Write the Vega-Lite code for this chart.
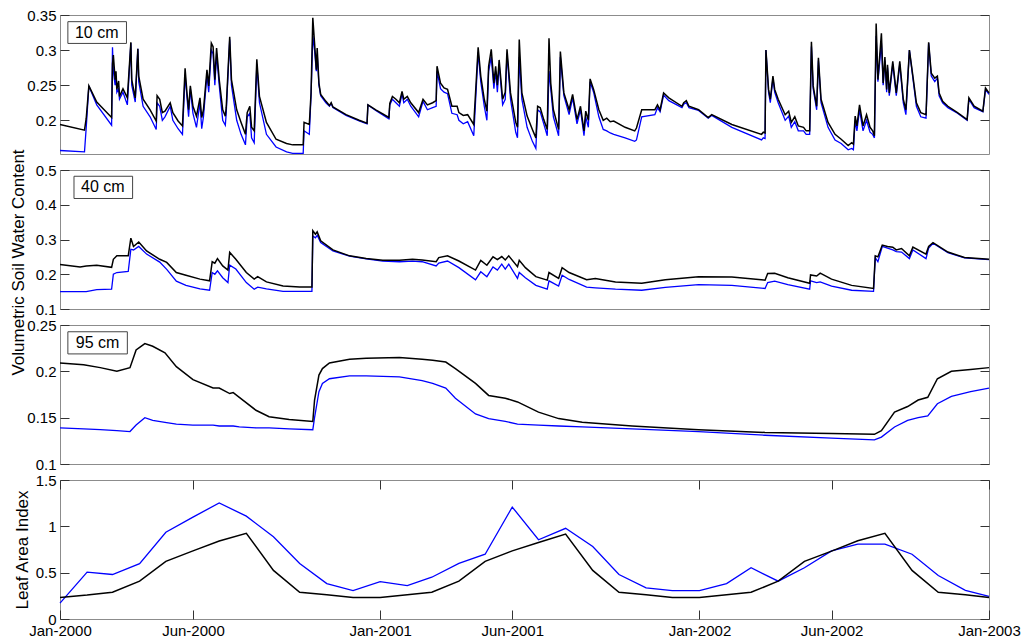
{
  "$schema": "https://vega.github.io/schema/vega-lite/v6.json",
  "background": "white",
  "padding": {"left": 8, "top": 7, "right": 5, "bottom": 5},
  "bounds": "flush",
  "spacing": 16,
  "config": {
    "font": "Liberation Sans",
    "view": {"stroke": "#8c8c8c", "strokeWidth": 1},
    "axis": {"labelFont": "Liberation Sans", "labelFontSize": 15, "labelColor": "#000000", "titleFont": "Liberation Sans", "titleFontSize": 17, "titleFontWeight": "normal", "titleColor": "#000000", "domain": false, "grid": false, "tickColor": "#333333", "tickSize": -9, "tickWidth": 1, "labelPadding": 13, "labelFlush": false},
    "line": {"strokeWidth": 1.4, "clip": true}
  },
  "resolve": {"scale": {"y": "independent"}},
  "datasets": {
    "soil10": [
      {"date":"2000-01-01","measured":0.194,"simulated":0.157},
      {"date":"2000-01-29","measured":0.186,"simulated":0.155},
      {"date":"2000-01-31","measured":0.203,"simulated":0.19},
      {"date":"2000-02-03","measured":0.249,"simulated":0.249},
      {"date":"2000-02-12","measured":0.226,"simulated":0.222},
      {"date":"2000-02-29","measured":0.204,"simulated":0.193},
      {"date":"2000-03-01","measured":0.28,"simulated":0.304},
      {"date":"2000-03-02","measured":0.293,"simulated":0.27},
      {"date":"2000-03-04","measured":0.258,"simulated":0.25},
      {"date":"2000-03-05","measured":0.27,"simulated":0.262},
      {"date":"2000-03-06","measured":0.244,"simulated":0.24},
      {"date":"2000-03-08","measured":0.256,"simulated":0.245},
      {"date":"2000-03-09","measured":0.234,"simulated":0.23},
      {"date":"2000-03-13","measured":0.245,"simulated":0.24},
      {"date":"2000-03-18","measured":0.232,"simulated":0.222},
      {"date":"2000-03-22","measured":0.311,"simulated":0.31},
      {"date":"2000-03-23","measured":0.258,"simulated":0.25},
      {"date":"2000-03-27","measured":0.232,"simulated":0.226},
      {"date":"2000-03-30","measured":0.302,"simulated":0.302},
      {"date":"2000-03-31","measured":0.263,"simulated":0.255},
      {"date":"2000-04-05","measured":0.23,"simulated":0.22},
      {"date":"2000-04-13","measured":0.215,"simulated":0.205},
      {"date":"2000-04-20","measured":0.199,"simulated":0.187},
      {"date":"2000-04-21","measured":0.235,"simulated":0.225},
      {"date":"2000-04-24","measured":0.23,"simulated":0.22},
      {"date":"2000-04-27","measured":0.211,"simulated":0.2},
      {"date":"2000-04-30","measured":0.213,"simulated":0.205},
      {"date":"2000-05-06","measured":0.225,"simulated":0.22},
      {"date":"2000-05-09","measured":0.211,"simulated":0.2},
      {"date":"2000-05-15","measured":0.199,"simulated":0.188},
      {"date":"2000-05-20","measured":0.192,"simulated":0.18},
      {"date":"2000-05-23","measured":0.274,"simulated":0.265},
      {"date":"2000-05-25","measured":0.241,"simulated":0.235},
      {"date":"2000-05-27","measured":0.215,"simulated":0.205},
      {"date":"2000-05-29","measured":0.249,"simulated":0.245},
      {"date":"2000-06-01","measured":0.22,"simulated":0.21},
      {"date":"2000-06-05","measured":0.206,"simulated":0.19},
      {"date":"2000-06-09","measured":0.232,"simulated":0.225},
      {"date":"2000-06-11","measured":0.204,"simulated":0.188},
      {"date":"2000-06-13","measured":0.215,"simulated":0.205},
      {"date":"2000-06-17","measured":0.272,"simulated":0.265},
      {"date":"2000-06-19","measured":0.249,"simulated":0.24},
      {"date":"2000-06-22","measured":0.31,"simulated":0.3},
      {"date":"2000-06-24","measured":0.305,"simulated":0.295},
      {"date":"2000-06-26","measured":0.258,"simulated":0.25},
      {"date":"2000-06-28","measured":0.303,"simulated":0.295},
      {"date":"2000-07-01","measured":0.258,"simulated":0.25},
      {"date":"2000-07-05","measured":0.215,"simulated":0.2},
      {"date":"2000-07-08","measured":0.206,"simulated":0.193},
      {"date":"2000-07-09","measured":0.218,"simulated":0.21},
      {"date":"2000-07-13","measured":0.319,"simulated":0.315},
      {"date":"2000-07-15","measured":0.258,"simulated":0.25},
      {"date":"2000-07-21","measured":0.215,"simulated":0.2},
      {"date":"2000-07-26","measured":0.197,"simulated":0.18},
      {"date":"2000-07-31","measured":0.18,"simulated":0.165},
      {"date":"2000-08-02","measured":0.211,"simulated":0.205},
      {"date":"2000-08-05","measured":0.22,"simulated":0.21},
      {"date":"2000-08-07","measured":0.19,"simulated":0.175},
      {"date":"2000-08-10","measured":0.185,"simulated":0.168},
      {"date":"2000-08-13","measured":0.287,"simulated":0.28},
      {"date":"2000-08-16","measured":0.234,"simulated":0.225},
      {"date":"2000-08-24","measured":0.197,"simulated":0.18},
      {"date":"2000-09-04","measured":0.173,"simulated":0.162},
      {"date":"2000-09-16","measured":0.167,"simulated":0.155},
      {"date":"2000-09-23","measured":0.165,"simulated":0.153},
      {"date":"2000-10-05","measured":0.165,"simulated":0.153},
      {"date":"2000-10-06","measured":0.197,"simulated":0.185},
      {"date":"2000-10-12","measured":0.194,"simulated":0.18},
      {"date":"2000-10-14","measured":0.239,"simulated":0.235},
      {"date":"2000-10-16","measured":0.346,"simulated":0.32},
      {"date":"2000-10-18","measured":0.31,"simulated":0.3},
      {"date":"2000-10-20","measured":0.272,"simulated":0.27},
      {"date":"2000-10-21","measured":0.303,"simulated":0.295},
      {"date":"2000-10-23","measured":0.253,"simulated":0.25},
      {"date":"2000-10-25","measured":0.237,"simulated":0.235},
      {"date":"2000-10-31","measured":0.227,"simulated":0.225},
      {"date":"2000-11-04","measured":0.221,"simulated":0.22},
      {"date":"2000-11-06","measured":0.225,"simulated":0.224},
      {"date":"2000-11-08","measured":0.219,"simulated":0.218},
      {"date":"2000-11-23","measured":0.208,"simulated":0.207},
      {"date":"2000-12-08","measured":0.2,"simulated":0.199},
      {"date":"2000-12-17","measured":0.196,"simulated":0.195},
      {"date":"2000-12-18","measured":0.222,"simulated":0.222},
      {"date":"2000-12-27","measured":0.215,"simulated":0.214},
      {"date":"2001-01-11","measured":0.204,"simulated":0.202},
      {"date":"2001-01-12","measured":0.224,"simulated":0.222},
      {"date":"2001-01-15","measured":0.234,"simulated":0.23},
      {"date":"2001-01-19","measured":0.23,"simulated":0.225},
      {"date":"2001-01-23","measured":0.225,"simulated":0.22},
      {"date":"2001-01-26","measured":0.241,"simulated":0.238},
      {"date":"2001-01-28","measured":0.23,"simulated":0.225},
      {"date":"2001-02-01","measured":0.234,"simulated":0.23},
      {"date":"2001-02-05","measured":0.225,"simulated":0.22},
      {"date":"2001-02-14","measured":0.211,"simulated":0.205},
      {"date":"2001-02-19","measured":0.23,"simulated":0.227},
      {"date":"2001-02-24","measured":0.222,"simulated":0.215},
      {"date":"2001-03-02","measured":0.225,"simulated":0.218},
      {"date":"2001-03-06","measured":0.228,"simulated":0.22},
      {"date":"2001-03-07","measured":0.277,"simulated":0.27},
      {"date":"2001-03-11","measured":0.253,"simulated":0.245},
      {"date":"2001-03-15","measured":0.246,"simulated":0.24},
      {"date":"2001-03-19","measured":0.244,"simulated":0.238},
      {"date":"2001-03-24","measured":0.22,"simulated":0.21},
      {"date":"2001-03-30","measured":0.22,"simulated":0.208},
      {"date":"2001-04-01","measured":0.211,"simulated":0.2},
      {"date":"2001-04-06","measured":0.207,"simulated":0.195},
      {"date":"2001-04-11","measured":0.208,"simulated":0.198},
      {"date":"2001-04-18","measured":0.194,"simulated":0.178},
      {"date":"2001-04-23","measured":0.304,"simulated":0.297},
      {"date":"2001-04-26","measured":0.263,"simulated":0.255},
      {"date":"2001-04-30","measured":0.23,"simulated":0.22},
      {"date":"2001-05-03","measured":0.213,"simulated":0.2},
      {"date":"2001-05-05","measured":0.277,"simulated":0.27},
      {"date":"2001-05-08","measured":0.301,"simulated":0.29},
      {"date":"2001-05-11","measured":0.253,"simulated":0.245},
      {"date":"2001-05-13","measured":0.277,"simulated":0.27},
      {"date":"2001-05-15","measured":0.25,"simulated":0.24},
      {"date":"2001-05-17","measured":0.286,"simulated":0.28},
      {"date":"2001-05-21","measured":0.23,"simulated":0.222},
      {"date":"2001-05-24","measured":0.24,"simulated":0.23},
      {"date":"2001-05-26","measured":0.301,"simulated":0.295},
      {"date":"2001-05-30","measured":0.239,"simulated":0.23},
      {"date":"2001-06-05","measured":0.197,"simulated":0.183},
      {"date":"2001-06-07","measured":0.19,"simulated":0.175},
      {"date":"2001-06-09","measured":0.315,"simulated":0.29},
      {"date":"2001-06-12","measured":0.239,"simulated":0.23},
      {"date":"2001-06-18","measured":0.206,"simulated":0.19},
      {"date":"2001-06-24","measured":0.187,"simulated":0.17},
      {"date":"2001-06-28","measured":0.175,"simulated":0.16},
      {"date":"2001-06-30","measured":0.22,"simulated":0.215},
      {"date":"2001-07-03","measured":0.218,"simulated":0.212},
      {"date":"2001-07-07","measured":0.201,"simulated":0.195},
      {"date":"2001-07-11","measured":0.187,"simulated":0.178},
      {"date":"2001-07-13","measured":0.317,"simulated":0.27},
      {"date":"2001-07-15","measured":0.253,"simulated":0.245},
      {"date":"2001-07-18","measured":0.215,"simulated":0.205},
      {"date":"2001-07-24","measured":0.187,"simulated":0.178},
      {"date":"2001-07-26","measured":0.298,"simulated":0.29},
      {"date":"2001-07-30","measured":0.239,"simulated":0.235},
      {"date":"2001-08-05","measured":0.215,"simulated":0.208},
      {"date":"2001-08-09","measured":0.237,"simulated":0.232},
      {"date":"2001-08-14","measured":0.201,"simulated":0.195},
      {"date":"2001-08-18","measured":0.22,"simulated":0.215},
      {"date":"2001-08-22","measured":0.185,"simulated":0.178},
      {"date":"2001-08-24","measured":0.213,"simulated":0.205},
      {"date":"2001-08-27","measured":0.2,"simulated":0.19},
      {"date":"2001-08-29","measured":0.259,"simulated":0.255},
      {"date":"2001-09-02","measured":0.244,"simulated":0.24},
      {"date":"2001-09-08","measured":0.215,"simulated":0.205},
      {"date":"2001-09-13","measured":0.2,"simulated":0.187},
      {"date":"2001-09-17","measured":0.203,"simulated":0.185},
      {"date":"2001-09-21","measured":0.198,"simulated":0.182},
      {"date":"2001-09-25","measured":0.199,"simulated":0.18},
      {"date":"2001-10-08","measured":0.19,"simulated":0.175},
      {"date":"2001-10-19","measured":0.185,"simulated":0.17},
      {"date":"2001-10-21","measured":0.189,"simulated":0.172},
      {"date":"2001-10-27","measured":0.215,"simulated":0.205},
      {"date":"2001-11-11","measured":0.215,"simulated":0.208},
      {"date":"2001-11-14","measured":0.222,"simulated":0.218},
      {"date":"2001-11-17","measured":0.215,"simulated":0.212},
      {"date":"2001-11-21","measured":0.239,"simulated":0.236},
      {"date":"2001-11-27","measured":0.232,"simulated":0.228},
      {"date":"2001-12-12","measured":0.22,"simulated":0.218},
      {"date":"2001-12-14","measured":0.225,"simulated":0.223},
      {"date":"2001-12-17","measured":0.228,"simulated":0.225},
      {"date":"2001-12-20","measured":0.22,"simulated":0.218},
      {"date":"2001-12-31","measured":0.215,"simulated":0.214},
      {"date":"2002-01-11","measured":0.204,"simulated":0.203},
      {"date":"2002-01-15","measured":0.208,"simulated":0.207},
      {"date":"2002-02-07","measured":0.194,"simulated":0.19},
      {"date":"2002-03-13","measured":0.18,"simulated":0.172},
      {"date":"2002-03-15","measured":0.183,"simulated":0.175},
      {"date":"2002-03-17","measured":0.182,"simulated":0.174},
      {"date":"2002-03-18","measured":0.3,"simulated":0.3},
      {"date":"2002-03-21","measured":0.244,"simulated":0.24},
      {"date":"2002-03-23","measured":0.23,"simulated":0.225},
      {"date":"2002-03-26","measured":0.263,"simulated":0.26},
      {"date":"2002-03-28","measured":0.244,"simulated":0.24},
      {"date":"2002-04-01","measured":0.23,"simulated":0.225},
      {"date":"2002-04-09","measured":0.208,"simulated":0.2},
      {"date":"2002-04-13","measured":0.213,"simulated":0.206},
      {"date":"2002-04-16","measured":0.197,"simulated":0.19},
      {"date":"2002-04-20","measured":0.205,"simulated":0.198},
      {"date":"2002-04-24","measured":0.192,"simulated":0.185},
      {"date":"2002-04-30","measured":0.19,"simulated":0.185},
      {"date":"2002-05-03","measured":0.185,"simulated":0.18},
      {"date":"2002-05-07","measured":0.185,"simulated":0.18},
      {"date":"2002-05-09","measured":0.312,"simulated":0.305},
      {"date":"2002-05-11","measured":0.249,"simulated":0.245},
      {"date":"2002-05-15","measured":0.22,"simulated":0.215},
      {"date":"2002-05-17","measured":0.289,"simulated":0.285},
      {"date":"2002-05-20","measured":0.23,"simulated":0.225},
      {"date":"2002-05-28","measured":0.197,"simulated":0.19},
      {"date":"2002-06-05","measured":0.18,"simulated":0.172},
      {"date":"2002-06-12","measured":0.173,"simulated":0.167},
      {"date":"2002-06-20","measured":0.164,"simulated":0.158},
      {"date":"2002-06-24","measured":0.168,"simulated":0.16},
      {"date":"2002-06-26","measured":0.166,"simulated":0.158},
      {"date":"2002-06-28","measured":0.206,"simulated":0.2},
      {"date":"2002-06-30","measured":0.192,"simulated":0.185},
      {"date":"2002-07-03","measured":0.222,"simulated":0.215},
      {"date":"2002-07-07","measured":0.192,"simulated":0.185},
      {"date":"2002-07-11","measured":0.208,"simulated":0.2},
      {"date":"2002-07-15","measured":0.19,"simulated":0.183},
      {"date":"2002-07-18","measured":0.185,"simulated":0.18},
      {"date":"2002-07-20","measured":0.178,"simulated":0.175},
      {"date":"2002-07-22","measured":0.338,"simulated":0.32},
      {"date":"2002-07-24","measured":0.258,"simulated":0.255},
      {"date":"2002-07-28","measured":0.324,"simulated":0.31},
      {"date":"2002-07-30","measured":0.253,"simulated":0.25},
      {"date":"2002-08-01","measured":0.29,"simulated":0.285},
      {"date":"2002-08-03","measured":0.244,"simulated":0.24},
      {"date":"2002-08-04","measured":0.279,"simulated":0.275},
      {"date":"2002-08-06","measured":0.239,"simulated":0.235},
      {"date":"2002-08-10","measured":0.284,"simulated":0.28},
      {"date":"2002-08-14","measured":0.239,"simulated":0.235},
      {"date":"2002-08-18","measured":0.284,"simulated":0.28},
      {"date":"2002-08-22","measured":0.23,"simulated":0.225},
      {"date":"2002-08-25","measured":0.215,"simulated":0.208},
      {"date":"2002-08-29","measured":0.3,"simulated":0.3},
      {"date":"2002-09-02","measured":0.263,"simulated":0.26},
      {"date":"2002-09-06","measured":0.225,"simulated":0.22},
      {"date":"2002-09-11","measured":0.211,"simulated":0.205},
      {"date":"2002-09-17","measured":0.208,"simulated":0.203},
      {"date":"2002-09-20","measured":0.311,"simulated":0.31},
      {"date":"2002-09-23","measured":0.267,"simulated":0.263},
      {"date":"2002-09-27","measured":0.26,"simulated":0.255},
      {"date":"2002-09-30","measured":0.263,"simulated":0.26},
      {"date":"2002-10-02","measured":0.239,"simulated":0.235},
      {"date":"2002-10-06","measured":0.227,"simulated":0.225},
      {"date":"2002-10-12","measured":0.22,"simulated":0.218},
      {"date":"2002-10-23","measured":0.211,"simulated":0.21},
      {"date":"2002-11-03","measured":0.201,"simulated":0.2},
      {"date":"2002-11-05","measured":0.232,"simulated":0.23},
      {"date":"2002-11-11","measured":0.22,"simulated":0.218},
      {"date":"2002-11-21","measured":0.213,"simulated":0.212},
      {"date":"2002-11-24","measured":0.246,"simulated":0.244},
      {"date":"2002-11-28","measured":0.239,"simulated":0.237}
    ],
    "soil40": [
      {"date":"2000-01-01","measured":0.228,"simulated":0.15},
      {"date":"2000-01-24","measured":0.221,"simulated":0.15},
      {"date":"2000-01-31","measured":0.224,"simulated":0.15},
      {"date":"2000-02-12","measured":0.226,"simulated":0.156},
      {"date":"2000-02-29","measured":0.22,"simulated":0.157},
      {"date":"2000-03-02","measured":0.243,"simulated":0.2},
      {"date":"2000-03-06","measured":0.253,"simulated":0.205},
      {"date":"2000-03-19","measured":0.253,"simulated":0.208},
      {"date":"2000-03-22","measured":0.304,"simulated":0.272},
      {"date":"2000-03-25","measured":0.28,"simulated":0.27},
      {"date":"2000-03-31","measured":0.293,"simulated":0.28},
      {"date":"2000-04-09","measured":0.267,"simulated":0.258},
      {"date":"2000-04-24","measured":0.243,"simulated":0.235},
      {"date":"2000-05-02","measured":0.234,"simulated":0.214},
      {"date":"2000-05-13","measured":0.205,"simulated":0.18},
      {"date":"2000-05-24","measured":0.197,"simulated":0.168},
      {"date":"2000-06-09","measured":0.186,"simulated":0.158},
      {"date":"2000-06-20","measured":0.181,"simulated":0.154},
      {"date":"2000-06-23","measured":0.236,"simulated":0.205},
      {"date":"2000-06-26","measured":0.232,"simulated":0.2},
      {"date":"2000-06-29","measured":0.245,"simulated":0.21},
      {"date":"2000-07-05","measured":0.224,"simulated":0.19},
      {"date":"2000-07-11","measured":0.212,"simulated":0.176},
      {"date":"2000-07-13","measured":0.263,"simulated":0.226},
      {"date":"2000-07-20","measured":0.243,"simulated":0.215},
      {"date":"2000-08-01","measured":0.205,"simulated":0.176},
      {"date":"2000-08-10","measured":0.186,"simulated":0.157},
      {"date":"2000-08-14","measured":0.193,"simulated":0.163},
      {"date":"2000-08-24","measured":0.178,"simulated":0.158},
      {"date":"2000-09-12","measured":0.166,"simulated":0.151},
      {"date":"2000-10-01","measured":0.163,"simulated":0.151},
      {"date":"2000-10-15","measured":0.163,"simulated":0.151},
      {"date":"2000-10-16","measured":0.325,"simulated":0.31},
      {"date":"2000-10-19","measured":0.315,"simulated":0.305},
      {"date":"2000-10-21","measured":0.322,"simulated":0.312},
      {"date":"2000-10-25","measured":0.296,"simulated":0.291},
      {"date":"2000-11-08","measured":0.27,"simulated":0.267},
      {"date":"2000-11-27","measured":0.253,"simulated":0.252},
      {"date":"2000-12-16","measured":0.245,"simulated":0.244},
      {"date":"2001-01-04","measured":0.24,"simulated":0.238},
      {"date":"2001-01-23","measured":0.24,"simulated":0.236},
      {"date":"2001-02-07","measured":0.243,"simulated":0.238},
      {"date":"2001-02-18","measured":0.241,"simulated":0.236},
      {"date":"2001-03-06","measured":0.236,"simulated":0.224},
      {"date":"2001-03-09","measured":0.248,"simulated":0.232},
      {"date":"2001-03-19","measured":0.253,"simulated":0.238},
      {"date":"2001-04-01","measured":0.238,"simulated":0.219},
      {"date":"2001-04-20","measured":0.212,"simulated":0.184},
      {"date":"2001-04-26","measured":0.24,"simulated":0.207},
      {"date":"2001-05-03","measured":0.226,"simulated":0.193},
      {"date":"2001-05-10","measured":0.25,"simulated":0.221},
      {"date":"2001-05-15","measured":0.242,"simulated":0.212},
      {"date":"2001-05-20","measured":0.251,"simulated":0.229},
      {"date":"2001-05-24","measured":0.241,"simulated":0.215},
      {"date":"2001-05-28","measured":0.253,"simulated":0.229},
      {"date":"2001-06-07","measured":0.222,"simulated":0.188},
      {"date":"2001-06-09","measured":0.24,"simulated":0.205},
      {"date":"2001-06-16","measured":0.219,"simulated":0.19},
      {"date":"2001-06-28","measured":0.193,"simulated":0.168},
      {"date":"2001-07-11","measured":0.183,"simulated":0.157},
      {"date":"2001-07-13","measured":0.205,"simulated":0.181},
      {"date":"2001-07-24","measured":0.188,"simulated":0.166},
      {"date":"2001-07-28","measured":0.219,"simulated":0.197},
      {"date":"2001-08-05","measured":0.205,"simulated":0.185},
      {"date":"2001-08-25","measured":0.184,"simulated":0.163},
      {"date":"2001-09-04","measured":0.188,"simulated":0.161},
      {"date":"2001-09-27","measured":0.178,"simulated":0.157},
      {"date":"2001-10-27","measured":0.174,"simulated":0.154},
      {"date":"2001-11-23","measured":0.184,"simulated":0.162},
      {"date":"2001-12-31","measured":0.193,"simulated":0.17},
      {"date":"2002-02-07","measured":0.192,"simulated":0.168},
      {"date":"2002-03-17","measured":0.183,"simulated":0.159},
      {"date":"2002-03-20","measured":0.202,"simulated":0.176},
      {"date":"2002-03-28","measured":0.203,"simulated":0.18},
      {"date":"2002-04-12","measured":0.19,"simulated":0.17},
      {"date":"2002-05-07","measured":0.174,"simulated":0.157},
      {"date":"2002-05-08","measured":0.198,"simulated":0.181},
      {"date":"2002-05-15","measured":0.195,"simulated":0.176},
      {"date":"2002-05-19","measured":0.203,"simulated":0.178},
      {"date":"2002-06-01","measured":0.186,"simulated":0.166},
      {"date":"2002-06-24","measured":0.168,"simulated":0.154},
      {"date":"2002-07-19","measured":0.159,"simulated":0.151},
      {"date":"2002-07-21","measured":0.253,"simulated":0.248},
      {"date":"2002-07-24","measured":0.25,"simulated":0.236},
      {"date":"2002-07-29","measured":0.284,"simulated":0.28},
      {"date":"2002-08-04","measured":0.28,"simulated":0.275},
      {"date":"2002-08-10","measured":0.278,"simulated":0.27},
      {"date":"2002-08-14","measured":0.27,"simulated":0.265},
      {"date":"2002-08-20","measured":0.274,"simulated":0.264},
      {"date":"2002-08-29","measured":0.253,"simulated":0.245},
      {"date":"2002-09-02","measured":0.278,"simulated":0.27},
      {"date":"2002-09-17","measured":0.258,"simulated":0.245},
      {"date":"2002-09-20","measured":0.28,"simulated":0.275},
      {"date":"2002-09-25","measured":0.291,"simulated":0.289},
      {"date":"2002-10-12","measured":0.264,"simulated":0.262},
      {"date":"2002-10-31","measured":0.248,"simulated":0.247},
      {"date":"2002-11-28","measured":0.243,"simulated":0.242}
    ],
    "soil95": [
      {"date":"2000-01-01","measured":0.209,"simulated":0.139},
      {"date":"2000-01-28","measured":0.207,"simulated":0.138},
      {"date":"2000-02-16","measured":0.204,"simulated":0.137},
      {"date":"2000-03-06","measured":0.2,"simulated":0.136},
      {"date":"2000-03-21","measured":0.204,"simulated":0.135},
      {"date":"2000-03-28","measured":0.223,"simulated":0.142},
      {"date":"2000-04-07","measured":0.23,"simulated":0.15},
      {"date":"2000-04-16","measured":0.227,"simulated":0.147},
      {"date":"2000-04-30","measured":0.22,"simulated":0.145},
      {"date":"2000-05-13","measured":0.205,"simulated":0.143},
      {"date":"2000-06-01","measured":0.191,"simulated":0.142},
      {"date":"2000-06-24","measured":0.182,"simulated":0.142},
      {"date":"2000-07-01","measured":0.182,"simulated":0.141},
      {"date":"2000-07-13","measured":0.176,"simulated":0.141},
      {"date":"2000-07-17","measured":0.177,"simulated":0.141},
      {"date":"2000-07-24","measured":0.172,"simulated":0.14},
      {"date":"2000-08-12","measured":0.158,"simulated":0.139},
      {"date":"2000-08-27","measured":0.151,"simulated":0.139},
      {"date":"2000-09-19","measured":0.148,"simulated":0.138},
      {"date":"2000-10-16","measured":0.146,"simulated":0.137},
      {"date":"2000-10-18","measured":0.169,"simulated":0.15},
      {"date":"2000-10-23","measured":0.196,"simulated":0.178},
      {"date":"2000-10-27","measured":0.203,"simulated":0.187},
      {"date":"2000-11-04","measured":0.209,"simulated":0.192},
      {"date":"2000-11-27","measured":0.213,"simulated":0.195},
      {"date":"2000-12-16","measured":0.214,"simulated":0.195},
      {"date":"2001-01-23","measured":0.215,"simulated":0.194},
      {"date":"2001-02-18","measured":0.213,"simulated":0.19},
      {"date":"2001-03-02","measured":0.212,"simulated":0.187},
      {"date":"2001-03-17","measured":0.21,"simulated":0.182},
      {"date":"2001-03-28","measured":0.203,"simulated":0.171},
      {"date":"2001-04-20","measured":0.187,"simulated":0.154},
      {"date":"2001-05-05","measured":0.174,"simulated":0.149},
      {"date":"2001-05-24","measured":0.171,"simulated":0.146},
      {"date":"2001-06-07","measured":0.167,"simulated":0.143},
      {"date":"2001-07-01","measured":0.156,"simulated":0.142},
      {"date":"2001-07-24","measured":0.149,"simulated":0.141},
      {"date":"2001-08-20","measured":0.145,"simulated":0.14},
      {"date":"2001-10-16","measured":0.141,"simulated":0.138},
      {"date":"2001-12-31","measured":0.137,"simulated":0.135},
      {"date":"2002-03-17","measured":0.134,"simulated":0.131},
      {"date":"2002-06-01","measured":0.133,"simulated":0.128},
      {"date":"2002-07-20","measured":0.132,"simulated":0.126},
      {"date":"2002-07-28","measured":0.136,"simulated":0.129},
      {"date":"2002-08-12","measured":0.156,"simulated":0.14},
      {"date":"2002-08-27","measured":0.162,"simulated":0.147},
      {"date":"2002-09-08","measured":0.169,"simulated":0.15},
      {"date":"2002-09-19","measured":0.172,"simulated":0.152},
      {"date":"2002-09-30","measured":0.192,"simulated":0.165},
      {"date":"2002-10-16","measured":0.2,"simulated":0.173},
      {"date":"2002-11-07","measured":0.202,"simulated":0.178},
      {"date":"2002-11-28","measured":0.204,"simulated":0.182}
    ],
    "lai": [
      {"date":"2000-01-01","measured":0.233,"simulated":0.171},
      {"date":"2000-02-01","measured":0.258,"simulated":0.506},
      {"date":"2000-03-01","measured":0.288,"simulated":0.48},
      {"date":"2000-04-01","measured":0.408,"simulated":0.597},
      {"date":"2000-05-01","measured":0.622,"simulated":0.936},
      {"date":"2000-06-01","measured":0.735,"simulated":1.1},
      {"date":"2000-07-01","measured":0.841,"simulated":1.252},
      {"date":"2000-08-01","measured":0.925,"simulated":1.11},
      {"date":"2000-09-01","measured":0.524,"simulated":0.888},
      {"date":"2000-10-01","measured":0.288,"simulated":0.6},
      {"date":"2000-11-01","measured":0.262,"simulated":0.382},
      {"date":"2000-12-01","measured":0.233,"simulated":0.306},
      {"date":"2001-01-01","measured":0.233,"simulated":0.404},
      {"date":"2001-02-01","measured":0.262,"simulated":0.36},
      {"date":"2001-03-01","measured":0.288,"simulated":0.451},
      {"date":"2001-04-01","measured":0.408,"simulated":0.6},
      {"date":"2001-05-01","measured":0.622,"simulated":0.699},
      {"date":"2001-06-01","measured":0.735,"simulated":1.208},
      {"date":"2001-07-01","measured":0.826,"simulated":0.855},
      {"date":"2001-08-01","measured":0.917,"simulated":0.979},
      {"date":"2001-09-01","measured":0.524,"simulated":0.783},
      {"date":"2001-10-01","measured":0.288,"simulated":0.48},
      {"date":"2001-11-01","measured":0.262,"simulated":0.335},
      {"date":"2001-12-01","measured":0.233,"simulated":0.306},
      {"date":"2002-01-01","measured":0.233,"simulated":0.306},
      {"date":"2002-02-01","measured":0.262,"simulated":0.382},
      {"date":"2002-03-01","measured":0.288,"simulated":0.553},
      {"date":"2002-04-01","measured":0.408,"simulated":0.408},
      {"date":"2002-05-01","measured":0.622,"simulated":0.553},
      {"date":"2002-06-01","measured":0.732,"simulated":0.735},
      {"date":"2002-07-01","measured":0.845,"simulated":0.808},
      {"date":"2002-08-01","measured":0.925,"simulated":0.808},
      {"date":"2002-09-01","measured":0.524,"simulated":0.699},
      {"date":"2002-10-01","measured":0.288,"simulated":0.47},
      {"date":"2002-11-01","measured":0.262,"simulated":0.309},
      {"date":"2002-11-28","measured":0.233,"simulated":0.244}
    ]
  },
  "vconcat": [
    {
      "width": 929, "height": 139,
      "data": {"name": "soil10"},
      "layer": [
        {"mark": {"type": "line", "strokeWidth": 1.3},
         "encoding": {
           "x": {"field": "date", "type": "temporal", "scale": {"type": "utc", "nice": false, "domain": [{"year":2000,"month":1,"date":1,"utc":true},{"year":2002,"month":11,"date":28,"utc":true}]}, "axis": null},
           "y": {"field": "simulated", "type": "quantitative", "scale": {"domain": [0.152, 0.35], "nice": false, "zero": false}, "axis": {"orient": "left", "values": [0.2, 0.25, 0.3, 0.35], "format": "~g", "title": null}},
           "color": {"datum": "simulated", "scale": {"domain": ["measured", "simulated"], "range": ["#000000", "#0000ff"]}, "legend": null}}},
        {"mark": {"type": "line", "strokeWidth": 1.5},
         "encoding": {
           "x": {"field": "date", "type": "temporal", "axis": null},
           "y": {"field": "measured", "type": "quantitative", "axis": {"orient": "right", "values": [0.2, 0.25, 0.3, 0.35], "labels": false, "title": null}},
           "color": {"datum": "measured", "legend": null}}},
        {"data": {"values": [{"depth": "10 cm"}]},
         "mark": {"type": "rect", "fill": "#ffffff", "stroke": "#444444", "strokeWidth": 1},
         "encoding": {
           "x": {"datum": {"year":2000,"month":1,"date":10,"utc":true}, "type": "temporal", "axis": null},
           "x2": {"datum": {"year":2000,"month":3,"date":17,"utc":true}},
           "y": {"datum": 0.3405, "type": "quantitative", "axis": null},
           "y2": {"datum": 0.3095}}},
        {"data": {"values": [{"depth": "10 cm"}]},
         "mark": {"type": "text", "fontSize": 16, "font": "Liberation Sans", "color": "#000000"},
         "encoding": {
           "x": {"datum": {"year":2000,"month":2,"date":12,"utc":true}, "type": "temporal", "axis": null},
           "y": {"datum": 0.325, "type": "quantitative", "axis": null},
           "text": {"field": "depth"}}}
      ],
      "resolve": {"axis": {"y": "independent"}}
    },
    {
      "width": 929, "height": 139,
      "data": {"name": "soil40"},
      "layer": [
        {"mark": {"type": "line", "strokeWidth": 1.3},
         "encoding": {
           "x": {"field": "date", "type": "temporal", "scale": {"type": "utc", "nice": false, "domain": [{"year":2000,"month":1,"date":1,"utc":true},{"year":2002,"month":11,"date":28,"utc":true}]}, "axis": null},
           "y": {"field": "simulated", "type": "quantitative", "scale": {"domain": [0.1, 0.5], "nice": false, "zero": false}, "axis": {"orient": "left", "values": [0.1, 0.2, 0.3, 0.4, 0.5], "format": "~g", "title": "Volumetric Soil Water Content", "titlePadding": 8, "titleY": 92}},
           "color": {"datum": "simulated", "scale": {"domain": ["measured", "simulated"], "range": ["#000000", "#0000ff"]}, "legend": null}}},
        {"mark": {"type": "line", "strokeWidth": 1.5},
         "encoding": {
           "x": {"field": "date", "type": "temporal", "axis": null},
           "y": {"field": "measured", "type": "quantitative", "axis": {"orient": "right", "values": [0.1, 0.2, 0.3, 0.4, 0.5], "labels": false, "title": null}},
           "color": {"datum": "measured", "legend": null}}},
        {"data": {"values": [{"depth": "40 cm"}]},
         "mark": {"type": "rect", "fill": "#ffffff", "stroke": "#444444", "strokeWidth": 1},
         "encoding": {
           "x": {"datum": {"year":2000,"month":1,"date":17,"utc":true}, "type": "temporal", "axis": null},
           "x2": {"datum": {"year":2000,"month":3,"date":24,"utc":true}},
           "y": {"datum": 0.482, "type": "quantitative", "axis": null},
           "y2": {"datum": 0.418}}},
        {"data": {"values": [{"depth": "40 cm"}]},
         "mark": {"type": "text", "fontSize": 16, "font": "Liberation Sans", "color": "#000000"},
         "encoding": {
           "x": {"datum": {"year":2000,"month":2,"date":19,"utc":true}, "type": "temporal", "axis": null},
           "y": {"datum": 0.45, "type": "quantitative", "axis": null},
           "text": {"field": "depth"}}}
      ],
      "resolve": {"axis": {"y": "independent"}}
    },
    {
      "width": 929, "height": 139,
      "data": {"name": "soil95"},
      "layer": [
        {"mark": {"type": "line", "strokeWidth": 1.3},
         "encoding": {
           "x": {"field": "date", "type": "temporal", "scale": {"type": "utc", "nice": false, "domain": [{"year":2000,"month":1,"date":1,"utc":true},{"year":2002,"month":11,"date":28,"utc":true}]}, "axis": null},
           "y": {"field": "simulated", "type": "quantitative", "scale": {"domain": [0.1, 0.25], "nice": false, "zero": false}, "axis": {"orient": "left", "values": [0.1, 0.15, 0.2, 0.25], "format": "~g", "title": null}},
           "color": {"datum": "simulated", "scale": {"domain": ["measured", "simulated"], "range": ["#000000", "#0000ff"]}, "legend": null}}},
        {"mark": {"type": "line", "strokeWidth": 1.5},
         "encoding": {
           "x": {"field": "date", "type": "temporal", "axis": null},
           "y": {"field": "measured", "type": "quantitative", "axis": {"orient": "right", "values": [0.1, 0.15, 0.2, 0.25], "labels": false, "title": null}},
           "color": {"datum": "measured", "legend": null}}},
        {"data": {"values": [{"depth": "95 cm"}]},
         "mark": {"type": "rect", "fill": "#ffffff", "stroke": "#444444", "strokeWidth": 1},
         "encoding": {
           "x": {"datum": {"year":2000,"month":1,"date":10,"utc":true}, "type": "temporal", "axis": null},
           "x2": {"datum": {"year":2000,"month":3,"date":18,"utc":true}},
           "y": {"datum": 0.2427, "type": "quantitative", "axis": null},
           "y2": {"datum": 0.2188}}},
        {"data": {"values": [{"depth": "95 cm"}]},
         "mark": {"type": "text", "fontSize": 16, "font": "Liberation Sans", "color": "#000000"},
         "encoding": {
           "x": {"datum": {"year":2000,"month":2,"date":13,"utc":true}, "type": "temporal", "axis": null},
           "y": {"datum": 0.2308, "type": "quantitative", "axis": null},
           "text": {"field": "depth"}}}
      ],
      "resolve": {"axis": {"y": "independent"}}
    },
    {
      "width": 929, "height": 139,
      "data": {"name": "lai"},
      "layer": [
        {"mark": {"type": "line", "strokeWidth": 1.3},
         "encoding": {
           "x": {"field": "date", "type": "temporal", "scale": {"type": "utc", "nice": false, "domain": [{"year":2000,"month":1,"date":1,"utc":true},{"year":2002,"month":11,"date":28,"utc":true}]},
                 "axis": {"orient": "bottom", "title": null, "values": [{"year":2000,"month":1,"date":1,"utc":true},{"year":2000,"month":6,"date":1,"utc":true},{"year":2001,"month":1,"date":1,"utc":true},{"year":2001,"month":6,"date":1,"utc":true},{"year":2002,"month":1,"date":1,"utc":true},{"year":2002,"month":6,"date":1,"utc":true},{"year":2002,"month":11,"date":28,"utc":true}],
                          "labelExpr": "datum.value >= 1036108800000 ? 'Jan-2003' : utcFormat(datum.value, '%b-%Y')", "labelPadding": 13}},
           "y": {"field": "simulated", "type": "quantitative", "scale": {"domain": [0, 1.5], "nice": false, "zero": false}, "axis": {"orient": "left", "values": [0, 0.5, 1, 1.5], "format": "~g", "title": "Leaf Area Index", "titlePadding": 4}},
           "color": {"datum": "simulated", "scale": {"domain": ["measured", "simulated"], "range": ["#000000", "#0000ff"]}, "legend": null}}},
        {"mark": {"type": "line", "strokeWidth": 1.5},
         "encoding": {
           "x": {"field": "date", "type": "temporal",
                 "axis": {"orient": "top", "title": null, "labels": false, "values": [{"year":2000,"month":1,"date":1,"utc":true},{"year":2000,"month":6,"date":1,"utc":true},{"year":2001,"month":1,"date":1,"utc":true},{"year":2001,"month":6,"date":1,"utc":true},{"year":2002,"month":1,"date":1,"utc":true},{"year":2002,"month":6,"date":1,"utc":true},{"year":2002,"month":11,"date":28,"utc":true}]}},
           "y": {"field": "measured", "type": "quantitative", "axis": {"orient": "right", "values": [0, 0.5, 1, 1.5], "labels": false, "title": null}},
           "color": {"datum": "measured", "legend": null}}}
      ],
      "resolve": {"axis": {"x": "independent", "y": "independent"}}
    }
  ]
}
